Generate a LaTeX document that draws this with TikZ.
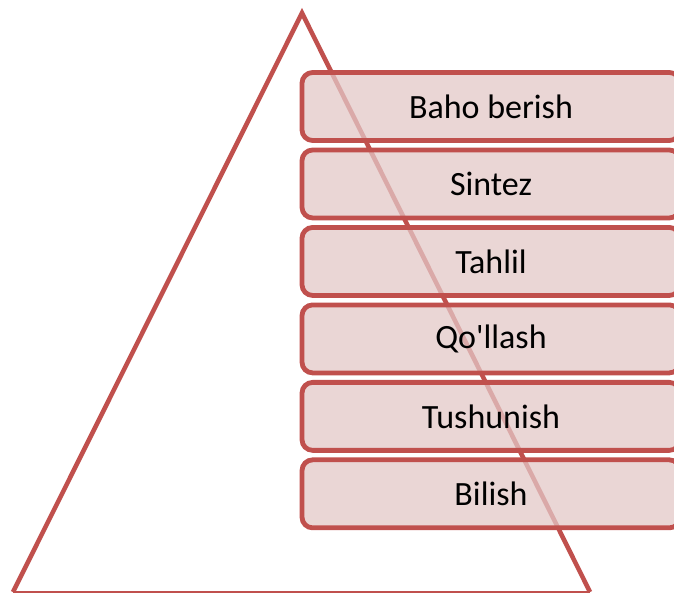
\documentclass[tikz,border=0pt]{standalone}
\usepackage{fontspec}
\setmainfont{Carlito}
\usetikzlibrary{positioning}
\definecolor{brickred}{RGB}{192,80,77}
\definecolor{boxpink}{RGB}{227,200,199}

\begin{document}
\begin{tikzpicture}[x=0.75pt, y=-0.75pt, node distance=58.1pt]
        \tikzstyle{level}=[draw=brickred, line width=3.6pt, rectangle, rounded corners=8pt, fill=boxpink, fill opacity=.75, text opacity=1, minimum width=283.5pt, minimum height=51pt, font=\fontsize{25.5}{30}\selectfont];
        \useasboundingbox (0,0) rectangle (674,594);
        \coordinate (apex) at (302,13);
        \coordinate (left) at (13,592);
        \coordinate (right) at (590,592);
        \draw[brickred, line width=3.4pt] (left) -- (apex) -- (right);
        \draw[brickred, line width=1.1pt] (left) -- (right);
        \node[level] (eval) at (491,106.5) {Baho berish};
        \node[level, below of=eval] (synth) {Sintez};
        \node[level, below of=synth] (anal) {Tahlil};
        \node[level, below of=anal] (appl) {Qo\textquotesingle llash};
        \node[level, below of=appl] (comp) {Tushunish};
        \node[level, below of=comp] (know) {Bilish};
      \end{tikzpicture}
\end{document}
